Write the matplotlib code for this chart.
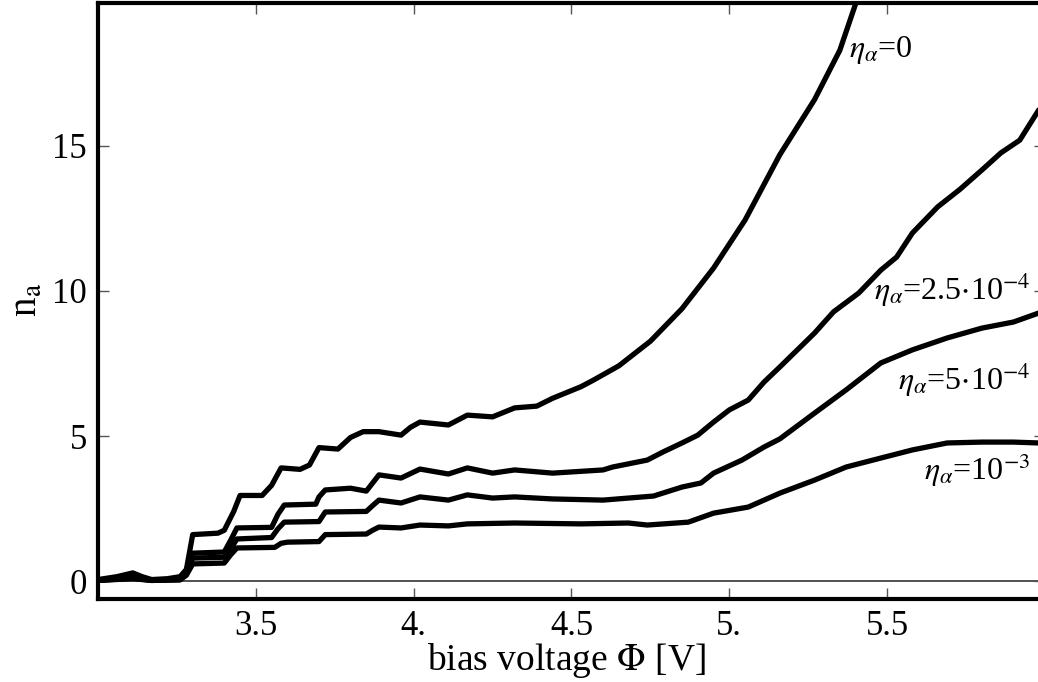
import matplotlib
matplotlib.use("Agg")
import matplotlib.pyplot as plt

plt.rcParams['font.family'] = ['Liberation Serif', 'DejaVu Serif']
plt.rcParams['mathtext.fontset'] = 'stix'

# bias voltage (V) and n_a for each damping value
v_eta0 = [3.00, 3.06, 3.11, 3.14, 3.17, 3.22, 3.26, 3.28, 3.30, 3.38, 3.40, 3.43, 3.45, 3.52,
          3.55, 3.58, 3.64, 3.67, 3.70, 3.76, 3.80, 3.84, 3.89, 3.96, 3.99, 4.02, 4.11, 4.17,
          4.25, 4.32, 4.39, 4.44, 4.53, 4.57, 4.65, 4.75, 4.85, 4.95, 5.05, 5.16, 5.27, 5.35, 5.40]
n_eta0 = [0.05, 0.15, 0.28, 0.15, 0.05, 0.08, 0.15, 0.40, 1.60, 1.65, 1.75, 2.40, 2.95, 2.95,
          3.30, 3.90, 3.85, 4.00, 4.60, 4.55, 4.95, 5.15, 5.15, 5.03, 5.30, 5.48, 5.38, 5.72,
          5.66, 5.97, 6.03, 6.30, 6.70, 6.93, 7.42, 8.27, 9.39, 10.79, 12.45, 14.70, 16.60, 18.30, 19.90]

v_eta1 = [3.00, 3.06, 3.11, 3.17, 3.26, 3.28, 3.30, 3.40, 3.42, 3.44, 3.55, 3.57, 3.59, 3.69,
          3.70, 3.72, 3.80, 3.85, 3.89, 3.96, 4.02, 4.11, 4.17, 4.25, 4.32, 4.44, 4.60, 4.63,
          4.74, 4.79, 4.85, 4.90, 4.95, 5.00, 5.06, 5.11, 5.16, 5.27, 5.33, 5.41, 5.48, 5.53,
          5.58, 5.66, 5.73, 5.80, 5.86, 5.92, 5.98]
n_eta1 = [0.02, 0.10, 0.15, 0.03, 0.05, 0.30, 0.96, 1.00, 1.40, 1.83, 1.85, 2.30, 2.62, 2.65,
          2.90, 3.14, 3.20, 3.10, 3.66, 3.55, 3.86, 3.69, 3.90, 3.72, 3.83, 3.72, 3.83, 3.93,
          4.17, 4.45, 4.76, 5.03, 5.48, 5.90, 6.24, 6.86, 7.38, 8.55, 9.28, 9.93, 10.72, 11.17,
          12.00, 12.90, 13.50, 14.17, 14.76, 15.20, 16.24]

v_eta2 = [3.00, 3.11, 3.17, 3.26, 3.28, 3.30, 3.40, 3.42, 3.44, 3.55, 3.57, 3.59, 3.70, 3.72,
          3.85, 3.87, 3.89, 3.96, 4.02, 4.11, 4.17, 4.25, 4.32, 4.44, 4.60, 4.76, 4.85, 4.91,
          4.95, 5.04, 5.11, 5.16, 5.27, 5.37, 5.48, 5.58, 5.69, 5.80, 5.90, 5.98]
n_eta2 = [0.02, 0.10, 0.02, 0.05, 0.25, 0.79, 0.82, 1.10, 1.45, 1.50, 1.80, 2.03, 2.05, 2.38,
          2.40, 2.60, 2.79, 2.69, 2.90, 2.79, 2.97, 2.86, 2.90, 2.83, 2.79, 2.93, 3.24, 3.38,
          3.72, 4.17, 4.62, 4.90, 5.79, 6.59, 7.52, 7.97, 8.38, 8.72, 8.93, 9.24]

v_eta3 = [3.00, 3.11, 3.17, 3.26, 3.28, 3.30, 3.40, 3.42, 3.44, 3.56, 3.58, 3.60, 3.70, 3.72,
          3.85, 3.87, 3.89, 3.96, 4.02, 4.11, 4.17, 4.32, 4.53, 4.68, 4.74, 4.87, 4.95, 5.06,
          5.16, 5.27, 5.37, 5.48, 5.58, 5.69, 5.80, 5.90, 5.98]
n_eta3 = [0.02, 0.08, 0.02, 0.04, 0.20, 0.59, 0.62, 0.90, 1.14, 1.16, 1.30, 1.34, 1.36, 1.60,
          1.62, 1.75, 1.86, 1.83, 1.93, 1.90, 1.97, 2.00, 1.97, 2.00, 1.93, 2.03, 2.34, 2.55,
          3.03, 3.48, 3.93, 4.24, 4.52, 4.76, 4.79, 4.79, 4.76]

curves = [(v_eta0, n_eta0), (v_eta1, n_eta1), (v_eta2, n_eta2), (v_eta3, n_eta3)]
labels = [r'$\eta_\alpha$=0', r'$\eta_\alpha$=2.5$\cdot$10$^{-4}$',
          r'$\eta_\alpha$=5$\cdot$10$^{-4}$', r'$\eta_\alpha$=10$^{-3}$']

fig = plt.figure(figsize=(10.38, 6.82), dpi=100)
ax = fig.add_axes([98/1038, 83/682, 947/1038, 596/682])

for v, n in curves:
    ax.plot(v, n, color='black', lw=3.8, solid_joinstyle='round', solid_capstyle='round', zorder=3)

ax.axhline(0, color='#333333', lw=1.2, zorder=1)

ax.set_xlim(3.0, 6.0)
ax.set_ylim(-0.62, 19.93)
ax.set_xticks([3.5, 4.0, 4.5, 5.0, 5.5])
ax.set_xticklabels(['3.5', '4.', '4.5', '5.', '5.5'])
ax.set_yticks([0, 5, 10, 15])
ax.tick_params(direction='in', length=8, width=1, color='#555555', top=True, right=True)
ax.tick_params(axis='x', pad=8, labelsize=25)
ax.tick_params(axis='y', pad=8, labelsize=25)

for side in ['left', 'bottom', 'top', 'right']:
    ax.spines[side].set_linewidth(3)
    ax.spines[side].set_color('black')

ax.set_xlabel(r'bias voltage $\Phi$ [V]', fontsize=27, va='baseline')
ax.xaxis.set_label_coords(0.495, (599 - 670) / 596)
ax.set_ylabel(r'n$_{\mathrm{a}}$', fontsize=28, va='center')
ax.yaxis.set_label_coords((27 - 98) / 947, (599 - 300) / 596)

# curve labels
ax.text(5.38, 18.07, labels[0], fontsize=23, ha='left', va='baseline')
ax.text(5.954, 9.69, labels[1], fontsize=23, ha='right', va='baseline')
ax.text(5.954, 6.59, labels[2], fontsize=23, ha='right', va='baseline')
ax.text(5.954, 3.48, labels[3], fontsize=23, ha='right', va='baseline')

fig.savefig('out.png', dpi=100)
